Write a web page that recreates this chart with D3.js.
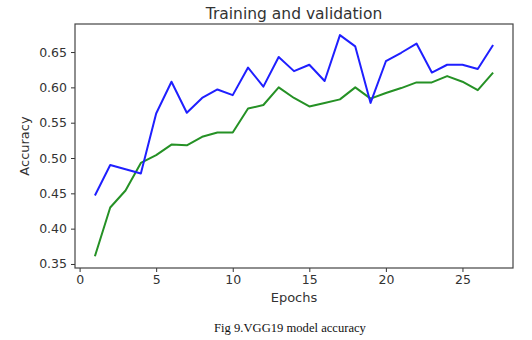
<!DOCTYPE html>
<html>
<head>
<meta charset="utf-8">
<script src="https://cdn.jsdelivr.net/npm/d3@7"></script>
<style>
  html, body { margin: 0; padding: 0; background: #fff; }
  svg { display: block; }
  .tick text { font-family: "DejaVu Sans", sans-serif; font-size: 12.5px; fill: #333; }
  .tick line { stroke: #333; }
  .domain { display: none; }
</style>
</head>
<body>
<svg id="chart" width="532" height="340"></svg>
<script>
// Epoch numbers and per-epoch accuracy for the two runs
const epochs = d3.range(1, 28);
const trainAcc = [0.447, 0.490, 0.484, 0.478, 0.563, 0.608, 0.564, 0.585, 0.597, 0.589,
                  0.628, 0.601, 0.643, 0.623, 0.632, 0.609, 0.674, 0.658, 0.578, 0.637,
                  0.649, 0.662, 0.621, 0.632, 0.632, 0.626, 0.660];
const valAcc   = [0.361, 0.430, 0.454, 0.493, 0.504, 0.519, 0.518, 0.530, 0.536, 0.536,
                  0.570, 0.575, 0.600, 0.585, 0.573, 0.578, 0.583, 0.600, 0.584, 0.592,
                  0.599, 0.607, 0.607, 0.616, 0.608, 0.596, 0.621];
const xTicks = [0, 5, 10, 15, 20, 25];
const yTicks = [0.35, 0.40, 0.45, 0.50, 0.55, 0.60, 0.65];

const svg = d3.select("#chart");
const plot = { left: 75, top: 24, right: 513, bottom: 268 };

const x = d3.scaleLinear().domain([-0.3, 28.3]).range([plot.left, plot.right]);
const y = d3.scaleLinear().domain([0.3443, 0.6897]).range([plot.bottom, plot.top]);

// Axes
svg.append("g")
  .attr("transform", `translate(0,${plot.bottom})`)
  .call(d3.axisBottom(x).tickValues(xTicks).tickFormat(d3.format("d")).tickSize(4).tickPadding(3));

svg.append("g")
  .attr("transform", `translate(${plot.left},0)`)
  .call(d3.axisLeft(y).tickValues(yTicks).tickFormat(d3.format(".2f")).tickSize(4).tickPadding(4));

// Plot frame
svg.append("rect")
  .attr("x", plot.left).attr("y", plot.top)
  .attr("width", plot.right - plot.left).attr("height", plot.bottom - plot.top)
  .attr("fill", "none").attr("stroke", "#444").attr("stroke-width", 1.2);

// Lines
const line = vals => d3.line().x((d, i) => x(epochs[i])).y(d => y(d))(vals);

svg.append("path").attr("d", line(valAcc))
  .attr("fill", "none").attr("stroke", "#259125").attr("stroke-width", 2)
  .attr("stroke-linejoin", "round");

svg.append("path").attr("d", line(trainAcc))
  .attr("fill", "none").attr("stroke", "#1f1fff").attr("stroke-width", 2)
  .attr("stroke-linejoin", "round");

// Titles
svg.append("text")
  .attr("x", (plot.left + plot.right) / 2).attr("y", 19)
  .attr("text-anchor", "middle")
  .style("font-family", "DejaVu Sans, sans-serif").style("font-size", "15.5px").style("fill", "#333")
  .text("Training and validation");

svg.append("text")
  .attr("x", (plot.left + plot.right) / 2).attr("y", 302)
  .attr("text-anchor", "middle")
  .style("font-family", "DejaVu Sans, sans-serif").style("font-size", "13px").style("fill", "#333")
  .text("Epochs");

svg.append("text")
  .attr("transform", `translate(29,${(plot.top + plot.bottom) / 2}) rotate(-90)`)
  .attr("text-anchor", "middle")
  .style("font-family", "DejaVu Sans, sans-serif").style("font-size", "13px").style("fill", "#333")
  .text("Accuracy");

svg.append("text")
  .attr("x", 290).attr("y", 332)
  .attr("text-anchor", "middle")
  .style("font-family", "Liberation Serif, serif").style("font-size", "12.6px").style("fill", "#111")
  .text("Fig 9.VGG19 model accuracy");
</script>
</body>
</html>
